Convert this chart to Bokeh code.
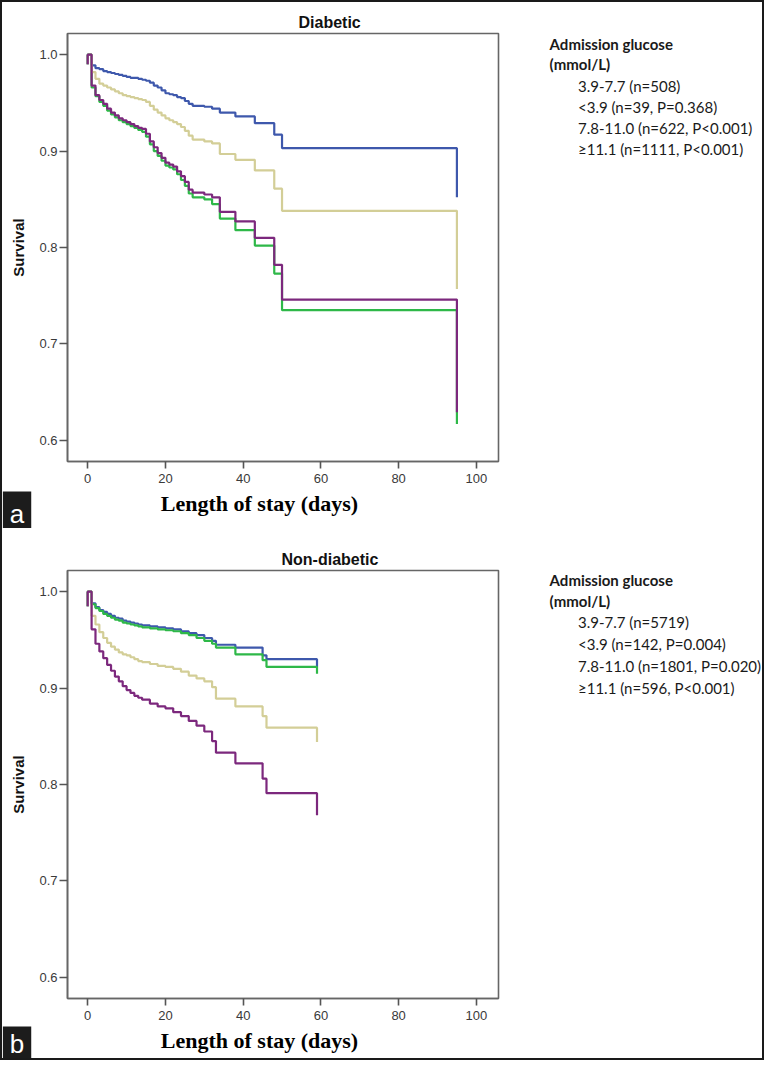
import math
from bokeh.plotting import figure
from bokeh.models import Range1d, FixedTicker, NumeralTickFormatter, Label, Legend, LegendItem
from bokeh.layouts import column, row
from bokeh.embed import file_html
from bokeh.resources import INLINE

# ---------------- data ----------------
group_names = ["3.9-7.7", "<3.9", "7.8-11.0", "≥11.1"]
group_colors = ["#3E58AC", "#2EB848", "#D3CE97", "#7C287D"]

legend_a = ["3.9-7.7 (n=508)", "<3.9 (n=39, P=0.368)",
            "7.8-11.0 (n=622, P<0.001)", "≥11.1 (n=1111, P<0.001)"]
legend_b = ["3.9-7.7 (n=5719)", "<3.9 (n=142, P=0.004)",
            "7.8-11.0 (n=1801, P=0.020)", "≥11.1 (n=596, P<0.001)"]

x_ticks = [0, 20, 40, 60, 80, 100]
y_ticks = [0.6, 0.7, 0.8, 0.9, 1.0]

# Panel a (Diabetic): length of stay (days) and survival
t_a = [0, 0, 1, 2, 3, 4, 5, 6, 7, 8, 9, 10, 11, 12, 13, 14, 15, 16, 17, 18, 19,
       20, 21, 22, 23, 24, 25, 26, 27, 30, 32, 34, 38, 43, 48, 50, 95]
blue_a = [0.990, 1.000, 0.989, 0.986, 0.985, 0.983, 0.982, 0.981, 0.980, 0.979,
          0.978, 0.977, 0.976, 0.976, 0.975, 0.974, 0.973, 0.971, 0.968, 0.966,
          0.963, 0.960, 0.959, 0.958, 0.956, 0.955, 0.952, 0.949, 0.947, 0.946,
          0.944, 0.940, 0.936, 0.929, 0.917, 0.903, 0.852]
green_a = [0.990, 1.000, 0.966, 0.957, 0.951, 0.947, 0.942, 0.938, 0.935, 0.932,
           0.930, 0.928, 0.926, 0.924, 0.922, 0.920, 0.915, 0.907, 0.900, 0.895,
           0.890, 0.885, 0.883, 0.881, 0.876, 0.870, 0.864, 0.856, 0.852, 0.850,
           0.845, 0.830, 0.818, 0.802, 0.773, 0.735, 0.617]
khaki_a = [0.990, 1.000, 0.982, 0.975, 0.970, 0.968, 0.966, 0.964, 0.962, 0.960,
           0.958, 0.957, 0.956, 0.955, 0.954, 0.953, 0.951, 0.947, 0.943, 0.940,
           0.937, 0.934, 0.932, 0.930, 0.928, 0.925, 0.921, 0.916, 0.912, 0.910,
           0.908, 0.897, 0.891, 0.880, 0.861, 0.838, 0.757]
purple_a = [0.990, 1.000, 0.968, 0.958, 0.953, 0.949, 0.944, 0.940, 0.937, 0.934,
            0.932, 0.930, 0.928, 0.926, 0.924, 0.923, 0.918, 0.910, 0.904, 0.898,
            0.893, 0.888, 0.886, 0.884, 0.879, 0.874, 0.868, 0.860, 0.857, 0.855,
            0.852, 0.837, 0.827, 0.810, 0.782, 0.746, 0.629]

# Panel b (Non-diabetic)
t_b = [0, 0, 1, 2, 3, 4, 5, 6, 7, 8, 9, 10, 11, 12, 13, 14, 16, 18, 20, 22, 24,
       26, 28, 30, 32, 33, 38, 45, 46, 59]
blue_b = [0.985, 1.000, 0.988, 0.984, 0.981, 0.979, 0.977, 0.975, 0.973, 0.972,
          0.970, 0.969, 0.968, 0.967, 0.966, 0.965, 0.964, 0.963, 0.962, 0.961,
          0.959, 0.957, 0.955, 0.952, 0.949, 0.945, 0.942, 0.934, 0.930, 0.922]
green_b = [0.985, 1.000, 0.987, 0.983, 0.980, 0.977, 0.975, 0.973, 0.971, 0.970,
           0.968, 0.967, 0.966, 0.965, 0.964, 0.963, 0.962, 0.961, 0.960, 0.959,
           0.957, 0.955, 0.952, 0.949, 0.946, 0.942, 0.935, 0.929, 0.922, 0.915]
khaki_b = [0.985, 1.000, 0.975, 0.966, 0.958, 0.952, 0.947, 0.943, 0.940, 0.937,
           0.935, 0.934, 0.932, 0.930, 0.928, 0.927, 0.925, 0.923, 0.922, 0.920,
           0.917, 0.913, 0.910, 0.907, 0.901, 0.889, 0.881, 0.871, 0.859, 0.844]
purple_b = [0.985, 1.000, 0.961, 0.946, 0.938, 0.931, 0.924, 0.918, 0.912, 0.907,
            0.902, 0.898, 0.895, 0.892, 0.890, 0.888, 0.884, 0.881, 0.879, 0.875,
            0.871, 0.866, 0.861, 0.855, 0.845, 0.833, 0.822, 0.806, 0.791, 0.768]

# ---------------- styling / layout ----------------
MAIN_W = 498
SIDE_W = 262
FULL_W = MAIN_W + SIDE_W
FRAME_H = 428
AXIS_GRAY = "#666666"
SANS = "Liberation Sans"
LEG_FONT = "Lato"


def blank(width, height, **kw):
    s = figure(width=width, height=height, title=None,
               x_range=Range1d(0, width), y_range=Range1d(0, height),
               output_backend="svg", toolbar_location=None,
               x_axis_location=None, y_axis_location=None, **kw)
    s.outline_line_color = None
    s.background_fill_color = "white"
    s.border_fill_color = "white"
    s.xgrid.visible = False
    s.ygrid.visible = False
    return s


def main_fig(title, title_offset, times, series, height, top):
    p = figure(width=MAIN_W, height=height, title=title,
               x_range=Range1d(-5.2, 105.7), y_range=Range1d(0.578, 1.022),
               output_backend="svg", toolbar_location=None,
               min_border_left=65, min_border_right=2,
               min_border_top=top, min_border_bottom=height - top - FRAME_H)
    p.title.align = "left"
    p.title.offset = title_offset
    p.title.standoff = 6
    p.title.text_font = SANS
    p.title.text_font_style = "bold"
    p.title.text_font_size = "16px"
    p.title.text_color = "#111111"
    p.background_fill_color = "white"
    p.border_fill_color = "white"
    p.outline_line_color = AXIS_GRAY
    p.outline_line_width = 1.6
    p.xgrid.visible = False
    p.ygrid.visible = False
    for ax in (p.xaxis[0], p.yaxis[0]):
        ax.axis_line_color = AXIS_GRAY
        ax.axis_line_width = 1.6
        ax.major_tick_line_color = "#555555"
        ax.major_tick_line_width = 1.6
        ax.major_tick_in = 0
        ax.minor_tick_in = 0
        ax.minor_tick_out = 0
        ax.major_label_text_font = SANS
        ax.major_label_text_font_size = "13px"
        ax.major_label_text_color = "#3a3a3a"
    p.xaxis.ticker = FixedTicker(ticks=x_ticks)
    p.xaxis.major_tick_out = 7
    p.xaxis.major_label_standoff = 5
    p.yaxis.ticker = FixedTicker(ticks=y_ticks)
    p.yaxis.formatter = NumeralTickFormatter(format="0.0")
    p.yaxis.major_tick_out = 8
    p.yaxis.major_label_standoff = 2
    p.yaxis.axis_label = "Survival"
    p.yaxis.axis_label_standoff = 9
    p.yaxis.axis_label_text_font = SANS
    p.yaxis.axis_label_text_font_style = "bold"
    p.yaxis.axis_label_text_font_size = "15px"
    p.yaxis.axis_label_text_color = "#111111"
    for ys, col in zip(series, group_colors):
        p.step(times, ys, mode="after", line_color=col, line_width=2.2)
    return p


def legend_title_fig(height, y1, y2):
    tf = blank(SIDE_W, height, min_border=0)
    for txt, y in (("Admission glucose", y1), ("(mmol/L)", y2)):
        tf.add_layout(Label(x=13, y=y, text=txt, text_align="left",
                            text_baseline="alphabetic", text_font=LEG_FONT,
                            text_font_style="bold", text_font_size="15px",
                            text_color="#1a1a1a"))
    return tf


def legend_fig(labels, height, pitch):
    lf = blank(SIDE_W, height, min_border_left=38, min_border_top=0,
               min_border_right=0, min_border_bottom=0)
    items = []
    for col, lab in zip(group_colors, labels):
        r = lf.step(x=[], y=[], mode="after", line_color=col, line_width=2.2)
        items.append(LegendItem(label=lab, renderers=[r]))
    lg = Legend(items=items, location="top_left", padding=0, margin=0,
                spacing=1, label_height=pitch - 1, glyph_height=pitch - 1,
                glyph_width=25, label_standoff=15,
                border_line_color=None, background_fill_alpha=0,
                label_text_font=LEG_FONT, label_text_font_size="15px",
                label_text_color="#1a1a1a")
    lf.add_layout(lg)
    return lf


def bottom_fig(height, tag, tag_y, label_y):
    bf = blank(FULL_W, height, min_border=0)
    bf.add_layout(Label(x=257, y=label_y, text="Length of stay (days)",
                        text_align="center", text_baseline="alphabetic",
                        text_font="Liberation Serif", text_font_style="bold",
                        text_font_size="22px", text_color="#000000"))
    bf.add_layout(Label(x=14.5, y=tag_y, text=tag, text_align="center",
                        text_baseline="middle", text_font=SANS,
                        text_font_size="26px", text_color="white",
                        background_fill_color="#1c1c1c", padding=7))
    return bf


main_a = main_fig("Diabetic", 231, t_a, [blue_a, green_a, khaki_a, purple_a],
                  height=488, top=31)
side_a = column(legend_title_fig(74, 32.5, 12.5), legend_fig(legend_a, 414, 21), spacing=0)
bot_a = bottom_fig(38, "a", 15, 25)

main_b = main_fig("Non-diabetic", 214, t_b, [blue_b, green_b, khaki_b, purple_b],
                  height=498, top=42)
side_b = column(legend_title_fig(83, 32, 11), legend_fig(legend_b, 415, 22), spacing=0)
bot_b = bottom_fig(32, "b", 15, 18)

layout = column(row(main_a, side_a, spacing=0), bot_a,
                row(main_b, side_b, spacing=0), bot_b,
                spacing=0, styles={"border": "2px solid #1a1a1a"})

open("out.html", "w").write(file_html(layout, INLINE))
